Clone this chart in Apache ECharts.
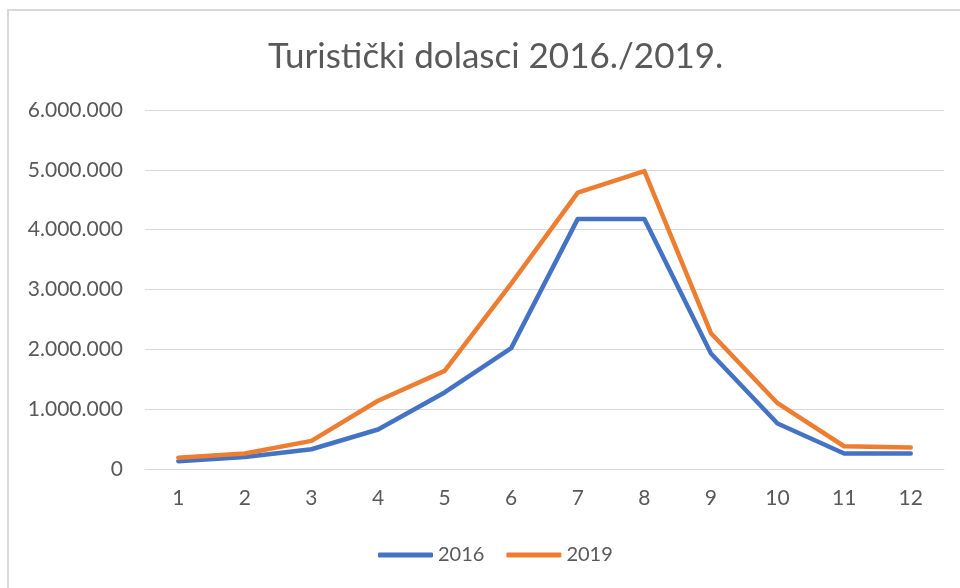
<!DOCTYPE html>
<html>
<head>
<meta charset="utf-8">
<script src="https://cdn.jsdelivr.net/npm/echarts@6/dist/echarts.min.js"></script>
<style>
  html,body{margin:0;padding:0;background:#fff;}
  #chart{width:960px;height:588px;}
</style>
</head>
<body>
<div id="chart"></div>
<script>
  var months=['1','2','3','4','5','6','7','8','9','10','11','12']
  var dolasci2016=[130000,200000,330000,660000,1280000,2020000,4180000,4180000,1930000,760000,260000,260000]
  var dolasci2019=[190000,260000,470000,1140000,1640000,3100000,4620000,4980000,2270000,1100000,380000,360000]
  var yTicks=[0,1000000,2000000,3000000,4000000,5000000,6000000]

  var fmt=function (v) {
    return String(v).replace(/\B(?=(\d{3})+(?!\d))/g,'.')
  }

  var chart=echarts.init(document.getElementById('chart'))
  var font='Lato, "Open Sans", sans-serif'

  var option={
    animation:false,
    textStyle:{fontFamily:font},
    title:{
      text:'Turistički dolasci 2016./2019.',
      left:263,
      top:34,
      textStyle:{fontFamily:font,fontSize:35,fontWeight:'normal',color:'#595959'}
    },
    graphic:[{
      type:'rect',
      shape:{x:8,y:10,width:1000,height:1000},
      style:{fill:'none',stroke:'#d9d9d9',lineWidth:2},
      silent:true
    }],
    legend:{
      top:540,
      left:373,
      itemWidth:55,
      itemHeight:5,
      itemGap:22,
      icon:'roundRect',
      textStyle:{fontFamily:font,fontSize:20,color:'#595959'},
      data:['2016','2019']
    },
    grid:{left:145,right:16,top:110,bottom:119},
    xAxis:{
      type:'category',
      data:months,
      boundaryGap:true,
      axisLine:{lineStyle:{color:'#d9d9d9'}},
      axisTick:{show:false},
      axisLabel:{color:'#595959',fontSize:21,margin:19,fontFamily:font}
    },
    yAxis:{
      type:'value',
      min:yTicks[0],
      max:yTicks[yTicks.length-1],
      interval:1000000,
      axisLine:{show:false},
      axisTick:{show:false},
      splitLine:{lineStyle:{color:'#d9d9d9'}},
      axisLabel:{color:'#595959',fontSize:21,margin:22,fontFamily:font,formatter:fmt}
    },
    series:[
      {
        name:'2016',
        type:'line',
        data:dolasci2016,
        symbol:'none',
        color:'#4472c4',
        lineStyle:{width:4.5,color:'#4472c4',cap:'round',join:'round'}
      },
      {
        name:'2019',
        type:'line',
        data:dolasci2019,
        symbol:'none',
        color:'#ed7d31',
        lineStyle:{width:4.5,color:'#ed7d31',cap:'round',join:'round'}
      }
    ]
  }

  chart.setOption(option)
</script>
</body>
</html>
